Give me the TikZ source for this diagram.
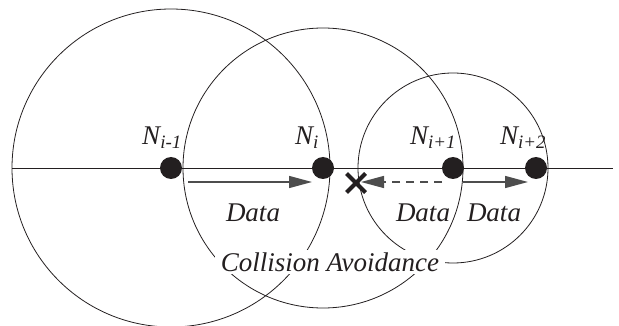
\documentclass[tikz,border=0pt]{standalone}
\usepackage{fontspec}
\setmainfont{Liberation Serif}
\usetikzlibrary{arrows.meta,positioning,calc,shapes.misc}
\definecolor{Ink}{HTML}{231F20}
\definecolor{Shaft}{HTML}{4D4D4D}
\newcommand{\nname}[1]{N\textsubscript{#1}}
\tikzset{
  station/.style={circle,fill=Ink,minimum size=22pt,inner sep=0pt},
  reach/.style={draw=Ink,line width=0.8pt},
  lab/.style={font=\fontsize{27}{30}\selectfont\itshape,text=Ink,inner sep=1pt},
  arr/.style={-{Triangle[length=23pt,width=12pt]},draw=Shaft,line width=1.4pt},
  blocked/.style={arr,dash pattern=on 8pt off 6pt},
  hit/.style={cross out,draw=Ink,line width=4pt,minimum size=15pt,inner sep=0pt}
}

\begin{document}
\begin{tikzpicture}[x=1pt,y=-1pt]
  \useasboundingbox (0,0) rectangle (619,326);
  \coordinate (west) at (12,168);
  \coordinate (east) at (613,168);
  \draw[reach] (west) -- (east);
  % stations
  \node[station] (n1) at (171,168) {};
  \node[station] (n2) at (323,168) {};
  \node[station] (n3) at (453,168) {};
  \node[station] (n4) at (536,168) {};
  % ranges
  \draw[reach] (n1.center) circle[radius=159];
  \draw[reach] (n2.center) circle[radius=140];
  \draw[reach] (n3.center) circle[radius=95];
  % names
  \node[lab] (l1) at ($(n1)+(-9,-30)$) {\nname{i-1}};
  \node[lab] (l2) at ($(n2)+(-16,-30)$) {\nname{i}};
  \node[lab] (l3) at ($(n3)+(-20,-30)$) {\nname{i+1}};
  \node[lab] (l4) at ($(n4)+(-13,-30)$) {\nname{i+2}};
  % transfers
  \node[hit] (x) at (356,183) {};
  \draw[arr] ($(n1)+(17,14)$) -- ($(n2)+(-11,14)$);
  \draw[blocked] ($(n3)+(-11,14)$) -- ($(x)+(5,-1)$);
  \draw[arr] ($(n3)+(10,14)$) -- ($(n4)+(-8,14)$);
  \node[lab] (d1) at (253,213) {Data};
  \node[lab] (d2) at (423,213) {Data};
  \node[lab] (d3) at (494,213) {Data};
  \node[lab,fill=white,inner xsep=6pt,inner ysep=2pt] (ca) at (330,262) {Collision Avoidance};
\end{tikzpicture}
\end{document}
